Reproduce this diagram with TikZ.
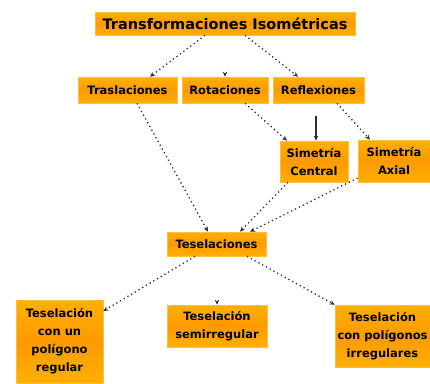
\documentclass[tikz,border=0pt]{standalone}
\usepackage{fontspec}
\setmainfont{DejaVu Sans}
\usetikzlibrary{arrows.meta}
\definecolor{boxedge}{HTML}{FFB000}
\definecolor{boxmid}{HTML}{FF9A00}
\definecolor{boxrim}{HTML}{FFC040}
\definecolor{linkgray}{HTML}{303030}
\begin{document}
\begin{tikzpicture}[x=1pt,y=-1pt,
  box/.style={shading=axis, top color=boxedge, bottom color=boxedge, middle color=boxmid,
    draw=boxrim, line width=0.6pt, inner sep=0pt, align=center,
    font=\fontsize{11.5}{18}\selectfont\bfseries},
  titlebox/.style={box, font=\fontsize{14.5}{16}\selectfont\bfseries},
  link/.style={draw=linkgray, line width=1.3pt, dash pattern=on 1.3pt off 3pt,
    -{Stealth[length=5pt,width=4.5pt]}},
  solidlink/.style={draw=linkgray, line width=1.1pt, -{Stealth[length=5pt,width=4.5pt]}}]
\useasboundingbox (0,0) rectangle (430,383);

% boxes
\node[titlebox, minimum width=260, minimum height=23] (iso) at (225,23.5) {Transformaciones Isométricas};
\node[box, minimum width=99, minimum height=26] (tras) at (127.5,90) {Traslaciones};
\node[box, minimum width=86, minimum height=26] (rot) at (225,90) {Rotaciones};
\node[box, minimum width=91, minimum height=26] (ref) at (318.5,90) {Reflexiones};
\node[box, minimum width=68, minimum height=41] (cen) at (314,161.5) {Simetría\\Central};
\node[box, minimum width=72, minimum height=42] (axi) at (394,161) {Simetría\\Axial};
\node[box, minimum width=99, minimum height=24] (tes) at (216.5,244) {Teselaciones};
\node[box, minimum width=87, minimum height=83] (reg) at (59.5,341.5) {Teselación\\con un\\polígono\\regular};
\node[box, minimum width=100, minimum height=42] (semi) at (217,326) {Teselación\\semirregular};
\node[box, minimum width=95, minimum height=62] (irr) at (382.5,336) {Teselación\\con polígonos\\irregulares};

% connectors
\draw[link] (iso.south -| 205,0) -- (tras.north -| 150,0);
\draw[link] ([yshift=2]rot.north) -- (rot.north);
\draw[link] (iso.south -| 245,0) -- (ref.north -| 298,0);
\draw[link] (rot.south -| 245,0) -- (cen.north -| 287,0);
\draw[solidlink] (316,116) -- (cen.north -| 316,0);
\draw[link] (ref.south -| 337,0) -- (axi.north -| 370,0);
\draw[link] (tras.south -| 137,0) -- (tes.north -| 208,0);
\draw[link] (cen.south -| 288,0) -- (tes.north -| 240,0);
\draw[link] (axi.west |- 0,178) -- (tes.north -| 250,0);
\draw[link] (tes.south -| 195,0) -- (reg.east |- 0,311);
\draw[link] ([yshift=2]semi.north) -- (semi.north);
\draw[link] (tes.south -| 247,0) -- (irr.north west);
\end{tikzpicture}
\end{document}
